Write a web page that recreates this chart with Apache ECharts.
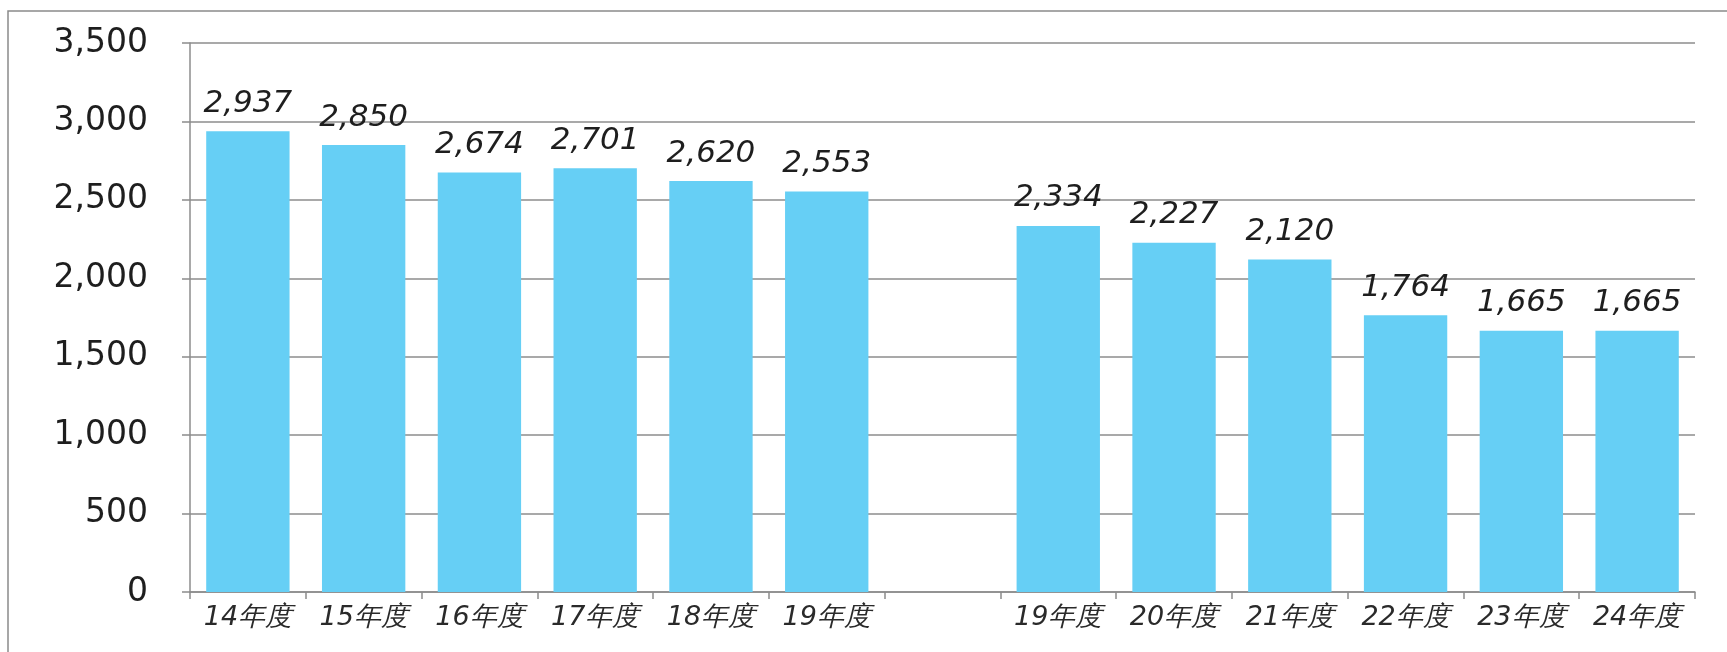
<!DOCTYPE html>
<html>
<head>
<meta charset="utf-8">
<script src="https://cdn.jsdelivr.net/npm/echarts@6/dist/echarts.min.js"></script>
<style>
html,body{margin:0;padding:0;background:#fff;}
#chart{width:1727px;height:652px;}
</style>
</head>
<body>
<div id="chart"></div>
<script>
const categories = ['14年度','15年度','16年度','17年度','18年度','19年度','','19年度','20年度','21年度','22年度','23年度','24年度'];
const values = [2937, 2850, 2674, 2701, 2620, 2553, null, 2334, 2227, 2120, 1764, 1665, 1665];
const yTicks = [0, 500, 1000, 1500, 2000, 2500, 3000, 3500];

const chart = echarts.init(document.getElementById('chart'));
chart.setOption({
  animation: false,
  graphic: [{
    type: 'rect',
    shape: { x: 8, y: 11, width: 1800, height: 700 },
    style: { fill: 'none', stroke: '#8a8a8a', lineWidth: 1.5 },
    silent: true
  }],
  grid: { left: 190, right: 32, top: 43, bottom: 60 },
  xAxis: {
    type: 'category',
    data: categories,
    axisLine: { lineStyle: { color: '#8c8c8c', width: 1.5 } },
    axisTick: { show: true, length: 7, lineStyle: { color: '#8c8c8c', width: 1.5 } },
    axisLabel: {
      interval: 0,
      fontFamily: 'DejaVu Sans',
      fontStyle: 'italic',
      fontSize: 27,
      color: '#2a2a2a',
      margin: 12
    }
  },
  yAxis: {
    type: 'value',
    min: yTicks[0],
    max: yTicks[yTicks.length - 1],
    interval: 500,
    axisLine: { show: true, lineStyle: { color: '#8c8c8c', width: 1.5 } },
    axisTick: { show: true, length: 8, lineStyle: { color: '#8c8c8c', width: 1.5 } },
    splitLine: { lineStyle: { color: '#8c8c8c', width: 1.5 } },
    axisLabel: {
      fontFamily: 'DejaVu Sans',
      fontSize: 33,
      color: '#1e1e1e',
      margin: 42,
      formatter: v => v.toLocaleString('en-US')
    }
  },
  series: [{
    type: 'bar',
    data: values,
    barWidth: '72%',
    itemStyle: { color: '#66cff5' },
    label: {
      show: true,
      position: 'top',
      distance: 12,
      fontFamily: 'DejaVu Sans',
      fontStyle: 'italic',
      fontSize: 31,
      color: '#1e1e1e',
      formatter: p => p.value == null ? '' : p.value.toLocaleString('en-US')
    }
  }]
});
</script>
</body>
</html>
